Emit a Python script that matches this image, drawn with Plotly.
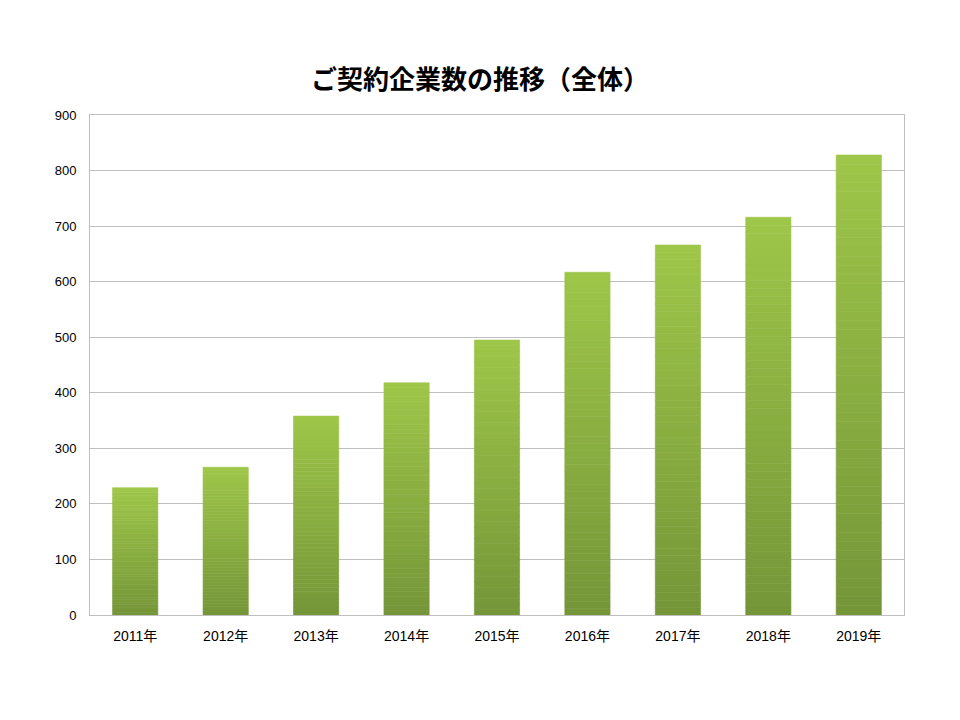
import plotly.graph_objects as go
import numpy as np

years = ["2011年", "2012年", "2013年", "2014年", "2015年", "2016年", "2017年", "2018年", "2019年"]
companies = [229, 266, 358, 418, 495, 617, 666, 716, 828]
y_ticks = [0, 100, 200, 300, 400, 500, 600, 700, 800, 900]

top_rgb = np.array([158, 198, 73])
bottom_rgb = np.array([117, 150, 56])

vals = np.array(companies, dtype=float)
N = 50
fig = go.Figure()
for k in range(N):
    t = (k + 0.5) / N
    c = bottom_rgb + (top_rgb - bottom_rgb) * t
    col = "rgb(%d,%d,%d)" % tuple(int(round(v)) for v in c)
    fig.add_trace(go.Bar(
        x=years, y=vals / N, base=vals * k / N,
        marker=dict(color=col, line=dict(color=col, width=0.6)),
        width=0.5, showlegend=False,
        customdata=vals, hovertemplate="%{x}: %{customdata}<extra></extra>",
    ))

font_family = "Liberation Sans, Noto Sans CJK JP, sans-serif"
fig.update_layout(
    barmode="overlay",
    width=960, height=720,
    margin=dict(l=82, r=64, t=107, b=113),
    paper_bgcolor="white", plot_bgcolor="white",
    title=dict(text="<b>ご契約企業数の推移（全体）</b>", x=(480 - 8) / 960, xanchor="center",
               xref="container", y=1 - 72 / 720, yref="container", yanchor="middle",
               font=dict(family="Noto Sans CJK JP, sans-serif", size=26, color="black")),
    font=dict(family=font_family, size=13, color="black"),
    showlegend=False,
)
fig.update_yaxes(range=[0, 900], tickvals=y_ticks, showgrid=True, gridcolor="#BFBFBF",
                 gridwidth=1, zeroline=False, showline=True, linecolor="#BFBFBF", mirror=True,
                 ticks="outside", ticklen=10, tickcolor="rgba(0,0,0,0)",
                 tickfont=dict(size=13, color="black"))
fig.update_xaxes(showline=True, linecolor="#BFBFBF", mirror=True, showgrid=False,
                 ticks="outside", ticklen=8, tickcolor="rgba(0,0,0,0)",
                 tickfont=dict(size=14, color="black"))

fig.write_html("out.html")
